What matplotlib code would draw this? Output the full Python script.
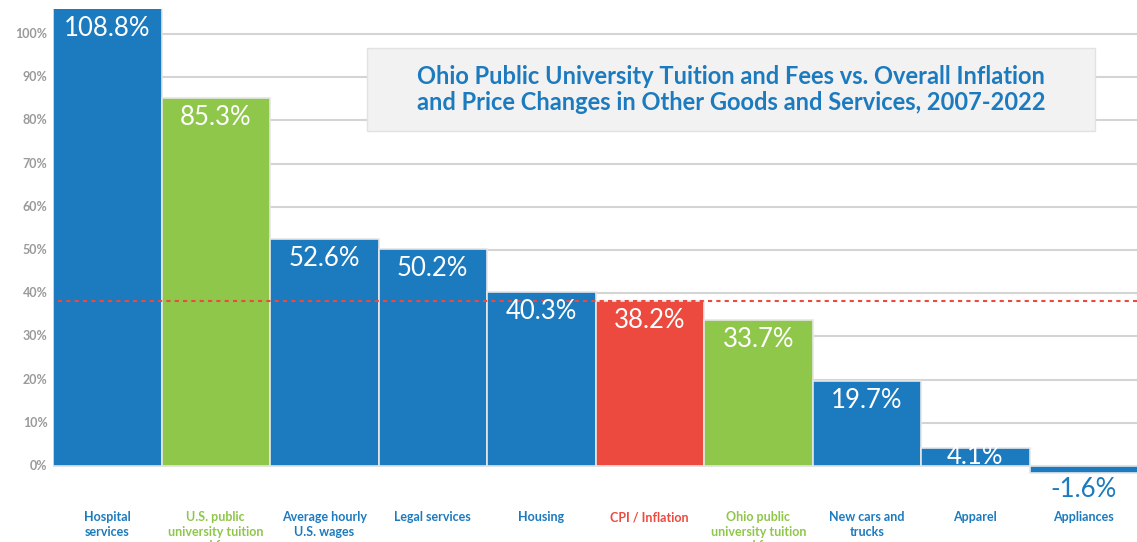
import matplotlib
matplotlib.use("Agg")
import matplotlib.pyplot as plt
from matplotlib.patches import FancyBboxPatch

categories = ["Hospital\nservices", "U.S. public\nuniversity tuition\nand fees", "Average hourly\nU.S. wages",
              "Legal services", "Housing", "CPI / Inflation", "Ohio public\nuniversity tuition\nand fees",
              "New cars and\ntrucks", "Apparel", "Appliances"]
values = [108.8, 85.3, 52.6, 50.2, 40.3, 38.2, 33.7, 19.7, 4.1, -1.6]
kinds = ["blue", "green", "blue", "blue", "blue", "red", "green", "blue", "blue", "blue"]
cpi_value = 38.2
yticks = [0, 10, 20, 30, 40, 50, 60, 70, 80, 90, 100]
title = "Ohio Public University Tuition and Fees vs. Overall Inflation\nand Price Changes in Other Goods and Services, 2007-2022"

palette = {"blue": "#1c7abf", "green": "#8fc74a", "red": "#ec4a3f"}

plt.rcParams['font.family'] = ['Lato', 'DejaVu Sans']

W, H = 1137, 542
DPI = 100
PX = 72 / DPI  # points per pixel
fig = plt.figure(figsize=(W / DPI, H / DPI), dpi=DPI)
# axes from y=542 (bottom) to y=9 (top) in pixels
ax = fig.add_axes([53 / W, 0, 1085 / W, (H - 9) / H])
ymin, ymax = -17.6, 105.8
ax.set_xlim(-0.5, len(values) - 0.5)
ax.set_ylim(ymin, ymax)
px_per_unit = (H - 9) / (ymax - ymin)
for s in ax.spines.values():
    s.set_visible(False)
ax.set_xticks([])
ax.set_yticks([])

# gridlines
for t in yticks:
    ax.axhline(t, color="#d4d4d4", lw=1.5, zorder=0)
    ax.text(-0.55, t, f"{t}%", ha="right", va="center", fontsize=9, color="#9a9a9a",
            fontweight="bold", transform=ax.transData)

xs = list(range(len(values)))
colors = [palette[k] for k in kinds]
ax.bar(xs, values, width=1.0, color=colors, edgecolor="#e6e6e6", linewidth=1.2, zorder=2)

for x, v, k in zip(xs, values, kinds):
    if v >= 0:
        top = min(v, ymax)
        bar_px = top * px_per_unit
        off_px = min(27, bar_px - 2)
        ax.annotate(f"{v}%", (x, top), xytext=(0, -off_px * PX), textcoords="offset points",
                    ha="center", va="baseline", fontsize=18.5, color="white", zorder=4,
                    annotation_clip=False)
    else:
        ax.annotate(f"{v}%", (x, v), xytext=(0, -24 * PX), textcoords="offset points",
                    ha="center", va="baseline", fontsize=18.5, color=palette[k], zorder=4)

for x, c, k in zip(xs, categories, kinds):
    ax.text(x, -10.5, c, ha="center", va="top", fontsize=9, color=palette[k],
            fontweight="bold", linespacing=1.25, zorder=4)

ax.plot([-0.45, len(values) - 0.5], [cpi_value, cpi_value], color="#ec4a3f",
        lw=1.5, ls=(0, (2, 2)), zorder=3)

# title box
bx0, by0, bx1, by1 = 367 / W, 1 - 131 / H, 1095 / W, 1 - 48 / H
box = FancyBboxPatch((bx0, by0), bx1 - bx0, by1 - by0, boxstyle="square,pad=0",
                     transform=fig.transFigure, facecolor="#f2f2f2", edgecolor="#e2e2e2",
                     lw=1, zorder=5)
fig.patches.append(box)
fig.text((bx0 + bx1) / 2, (by0 + by1) / 2, title, ha="center", va="center",
         fontsize=17, color="#1c7abf", fontweight="bold", linespacing=1.2, zorder=6)

fig.savefig("out.png", dpi=DPI)
